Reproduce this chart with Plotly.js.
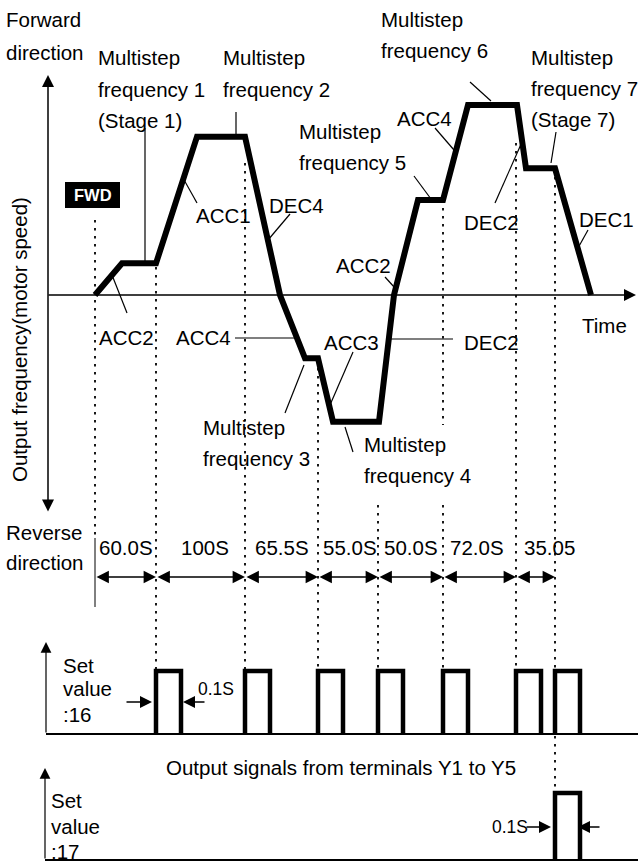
<!DOCTYPE html>
<html><head><meta charset="utf-8">
<script src="https://cdn.plot.ly/plotly-3.0.1.min.js"></script>
<style>html,body{margin:0;padding:0;background:#fff}#chart{width:638px;height:862px}</style>
</head><body><div id="chart"></div>
<script>
// ---------------- data (schematic time units, frequency in Hz) ----------------
const profileTime = [47, 74, 108, 149, 197, 232, 257, 270, 285, 331, 346, 370, 395, 420, 469, 478, 507, 543];
const profileFreq = [0, 10, 10, 50, 50, 0, -20, -20, -40, -40, 0, 30, 30, 60, 60, 40, 40, 0];
const stageBounds = [47, 108, 197, 270, 330, 395, 468, 507];
const stageDurations = ["60.0S", "100S", "65.5S", "55.0S", "50.0S", "72.0S", "35.05"];
const signal16Starts = [108, 197, 270, 330, 395, 468, 507];
const signal17Starts = [507];
const pulseWidth = 25;          // 0.1 s pulse, drawn exaggerated
const pulseLevel = 1;

// ---------------- helpers ----------------
const W = 638, H = 862;
const px = v => v / W;
const py = v => 1 - v / H;
const FONT = '"Liberation Sans", Arial, Helvetica, sans-serif';
const FS = 20.5;

function pulses(starts) {
  const x = [], y = [];
  starts.forEach(s => {
    x.push(s, s, s + pulseWidth, s + pulseWidth, null);
    y.push(0, pulseLevel, pulseLevel, 0, null);
  });
  return {x, y};
}
const p16 = pulses(signal16Starts), p17 = pulses(signal17Starts);

const traces = [
  {x: profileTime, y: profileFreq, xaxis: 'x', yaxis: 'y', mode: 'lines',
   line: {color: '#000', width: 6}, hoverinfo: 'skip'},
  {x: p16.x, y: p16.y, xaxis: 'x', yaxis: 'y2', mode: 'lines',
   line: {color: '#000', width: 4.5}, hoverinfo: 'skip'},
  {x: p17.x, y: p17.y, xaxis: 'x', yaxis: 'y3', mode: 'lines',
   line: {color: '#000', width: 4.5}, hoverinfo: 'skip'}
];

const ann = [];
const shapes = [];
function label(text, x, base, o = {}) {
  const fs = o.size || FS;
  ann.push({text, x: o.xref === 'x' ? x : px(x), xref: o.xref || 'paper',
    y: py(base - 0.3465 * fs), yref: 'paper', xanchor: o.anchor || 'left', yanchor: 'middle',
    showarrow: false, borderpad: 0, font: {family: o.family || FONT, size: fs, color: o.color || '#000'}});
}
function arrow(x1, y1, x0, y0, o = {}) {
  const head = o.head || 2, size = o.size || 1.6, width = o.width || 1.5;
  ann.push({x: px(x1), y: py(y1), xref: 'paper', yref: 'paper', ax: x0 - x1, ay: y0 - y1,
    axref: 'pixel', ayref: 'pixel', text: '', showarrow: true,
    arrowhead: head, startarrowhead: head, arrowside: o.both ? 'end+start' : 'end',
    arrowsize: size, startarrowsize: size, arrowwidth: width, arrowcolor: '#000',
    standoff: 0, startstandoff: 0});
}
function leader(x0, y0, x1, y1, w) {
  shapes.push({type: 'line', xref: 'paper', yref: 'paper', x0: px(x0), y0: py(y0), x1: px(x1), y1: py(y1),
    line: {color: '#000', width: w || 1.2}});
}

// ---------------- axes ----------------
arrow(48, 75, 48, 513, {both: true, size: 1.6});
arrow(636, 295, 47, 295, {size: 1.6});
arrow(46, 642, 46, 734, {width: 1.2, size: 1.8});
arrow(45, 768, 45, 860, {width: 1.2, size: 1.8});
leader(46, 734, 638, 734, 2);
leader(45, 860, 638, 860, 2);

// ---------------- dotted stage boundaries ----------------
const dotTops = [220, 267, 163, 360, 505, 200, 143, 177];
stageBounds.forEach((b, i) => {
  const segs = i === 5 ? [[dotTops[i], 425], [505, 671]] : [[dotTops[i], i === 0 ? 538 : 671]];
  segs.forEach(s => shapes.push({type: 'line', xref: 'x', yref: 'paper', x0: b, x1: b, y0: py(s[0]), y1: py(s[1]),
    line: {color: '#000', width: 1.8, dash: '2.5px,5.5px'}}));
});
shapes.push({type: 'line', xref: 'x', yref: 'paper', x0: stageBounds[0], x1: stageBounds[0], y0: py(538), y1: py(607),
  line: {color: '#000', width: 1}});
shapes.push({type: 'line', xref: 'x', yref: 'paper', x0: signal17Starts[0], x1: signal17Starts[0], y0: py(736), y1: py(793),
  line: {color: '#000', width: 1.8, dash: '2.5px,5.5px'}});

// ---------------- stage duration dimension arrows ----------------
const durShift = [0, 4, 0, 2, 0, -3, 14];
stageDurations.forEach((d, i) => {
  ann.push({x: stageBounds[i + 1], xref: 'x', y: py(577), yref: 'paper', ax: stageBounds[i], axref: 'x',
    ay: 0, ayref: 'pixel', text: '', showarrow: true, arrowhead: 2, startarrowhead: 2, arrowside: 'end+start',
    arrowsize: 1.65, startarrowsize: 1.65, arrowwidth: 1.5, arrowcolor: '#000', standoff: 0, startstandoff: 0});
  label(d, (stageBounds[i] + stageBounds[i + 1]) / 2 + durShift[i], 555, {xref: 'x', anchor: 'center', size: 20.5});
});

// ---------------- FWD box ----------------
shapes.push({type: 'rect', xref: 'paper', yref: 'paper', x0: px(65), x1: px(120), y0: py(182), y1: py(208),
  fillcolor: '#000', line: {width: 0}});
ann.push({text: '<b>FWD</b>', x: px(92.5), y: py(195.5), xref: 'paper', yref: 'paper', showarrow: false,
  xanchor: 'center', yanchor: 'middle', font: {family: FONT, size: 16.5, color: '#fff'}});

// ---------------- labels ----------------
label('Forward', 5, 27); label('direction', 5, 60);
label('Multistep', 97, 65); label('frequency 1', 97, 97); label('(Stage 1)', 97, 128);
label('Multistep', 222, 65); label('frequency 2', 222, 97);
label('ACC1', 195, 223);
label('DEC4', 268, 213);
label('Multistep', 298, 139); label('frequency 5', 298, 170);
label('Multistep', 380, 27); label('frequency 6', 380, 58);
label('ACC4', 396, 126);
label('Multistep', 530, 65); label('frequency 7', 530, 96); label('(Stage 7)', 530, 127);
label('DEC2', 463, 230);
label('DEC1', 578, 227);
label('ACC2', 335, 273);
label('Time', 581, 333);
label('ACC2', 98, 345);
label('ACC4', 175, 345);
label('ACC3', 323, 350);
label('DEC2', 463, 350);
label('Multistep', 202, 435); label('frequency 3', 202, 466);
label('Multistep', 363, 452); label('frequency 4', 363, 483);
label('Reverse', 5, 540); label('direction', 5, 570);
label('Set', 62, 673); label('value', 62, 696); label(':16', 62, 722);
label('0.1S', 197, 695, {size: 17.5});
label('Output signals from terminals Y1 to Y5', 165, 775);
label('Set', 50, 808); label('value', 50, 834); label(':17', 50, 859);
label('0.1S', 491, 833, {size: 17.5});
ann.push({text: 'Output frequency(motor speed)', x: px(19), y: py(340), xref: 'paper', yref: 'paper',
  showarrow: false, textangle: -90, xanchor: 'center', yanchor: 'middle', borderpad: 0,
  font: {family: FONT, size: FS, color: '#000'}});

// 0.1 s arrows
arrow(152, 702, 125, 702); arrow(183, 702, 206, 702);
arrow(551, 827, 525, 827); arrow(578, 827, 601, 827);

// ---------------- leader lines ----------------
leader(145, 128, 145, 262);
leader(236, 112, 236, 137);
leader(183, 178, 197, 203);
leader(268, 240, 290, 214);
leader(414, 176, 431, 199);
leader(435, 128, 454, 150);
leader(470, 82, 491, 101);
leader(556, 132, 551, 163);
leader(495, 203, 522, 142);
leader(578, 248, 588, 230);
leader(385, 277, 395, 288);
leader(353, 352, 330, 405);
leader(389, 339, 453, 339);
leader(345, 427, 353, 452);
leader(112, 275, 127, 313);
leader(235, 338, 297, 338);
leader(285, 413, 304, 365);

const layout = {
  width: W, height: H, margin: {l: 0, r: 0, t: 0, b: 0},
  paper_bgcolor: '#fff', plot_bgcolor: '#fff', showlegend: false,
  xaxis: {range: [-48, 590], visible: false, fixedrange: true},
  yaxis: {range: [-179.04, 93.15], visible: false, fixedrange: true},
  yaxis2: {range: [-2.032, 11.651], visible: false, overlaying: 'y', fixedrange: true},
  yaxis3: {range: [-0.02985, 12.836], visible: false, overlaying: 'y', fixedrange: true},
  annotations: ann, shapes: shapes
};
Plotly.newPlot('chart', traces, layout, {staticPlot: true, displayModeBar: false});
</script></body></html>
